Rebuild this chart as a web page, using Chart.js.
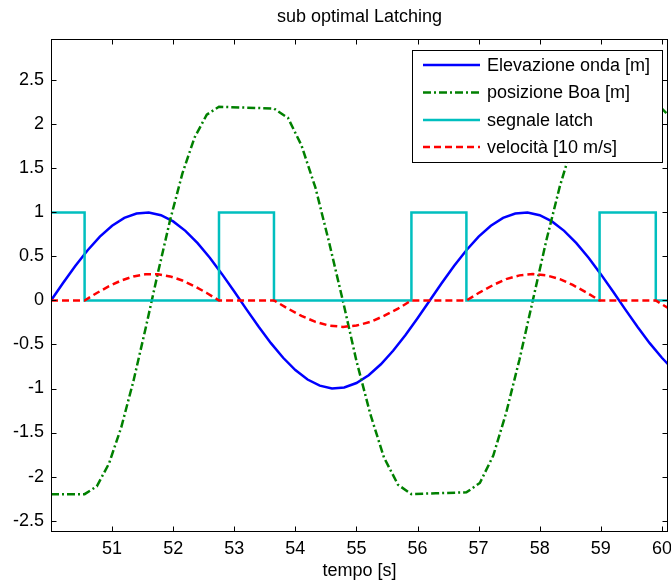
<!DOCTYPE html>
<html><head><meta charset="utf-8">
<script src="https://cdn.jsdelivr.net/npm/chart.js@4.4.1/dist/chart.umd.min.js"></script>
<style>html,body{margin:0;padding:0;background:#fff;}</style>
</head><body>
<canvas id="c" width="671" height="583" style="display:block;width:671px;height:583px"></canvas>
<script>
const chartTitle = 'sub optimal Latching';
const xAxisTitle = 'tempo [s]';
const seriesNames = ['Elevazione onda [m]', 'posizione Boa [m]', 'segnale latch', 'velocità [10 m/s]'];
const xTicks = [51, 52, 53, 54, 55, 56, 57, 58, 59, 60];
const yTicks = [-2.5, -2, -1.5, -1, -0.5, 0, 0.5, 1, 1.5, 2, 2.5];
const yTickLabels = ['-2.5', '-2', '-1.5', '-1', '-0.5', '0', '0.5', '1', '1.5', '2', '2.5'];

// Elevazione onda [m]
const tElev = [50.0,50.2,50.4,50.6,50.8,51.0,51.2,51.4,51.6,51.8,52.0,52.2,52.4,52.6,52.8,53.0,53.2,53.4,53.6,53.8,
  54.0,54.2,54.4,54.6,54.8,55.0,55.2,55.4,55.6,55.8,56.0,56.2,56.4,56.6,56.8,57.0,57.2,57.4,57.6,57.8,
  58.0,58.2,58.4,58.6,58.8,59.0,59.2,59.4,59.6,59.8,60.0,60.1];
const elevazione = [0,0.201,0.394,0.571,0.725,0.849,0.938,0.988,0.999,0.968,0.898,0.791,0.651,0.485,0.299,0.101,
  -0.101,-0.299,-0.485,-0.651,-0.791,-0.898,-0.968,-0.999,-0.988,-0.938,-0.849,-0.725,-0.571,-0.394,-0.201,0,
  0.201,0.394,0.571,0.725,0.849,0.938,0.988,0.999,0.968,0.898,0.791,0.651,0.485,0.299,0.101,-0.101,-0.299,-0.485,-0.651,-0.724];

// posizione Boa [m]
const tBoa = [50.0,50.55,50.75,50.95,51.15,51.35,51.55,51.75,51.95,52.15,52.35,52.55,52.75,53.2,53.65,
  53.88,54.1,54.33,54.55,54.78,55.0,55.23,55.45,55.68,55.9,56.3,56.8,
  57.02,57.24,57.45,57.67,57.89,58.11,58.33,58.54,58.76,58.98,59.9,60.0,60.1];
const posizione = [-2.2,-2.2,-2.111,-1.851,-1.441,-0.914,-0.313,0.313,0.914,1.441,1.851,2.111,2.2,2.19,2.18,
  2.073,1.762,1.278,0.667,-0.01,-0.687,-1.298,-1.782,-2.093,-2.2,-2.19,-2.18,
  -2.073,-1.762,-1.278,-0.667,0.01,0.687,1.298,1.782,2.093,2.2,2.2,2.178,2.111];

// segnale latch
const tLatch = [50.0,50.55,50.55,52.75,52.75,53.65,53.65,55.9,55.9,56.8,56.8,58.98,58.98,59.9,59.9,60.1];
const latch = [1,1,0,0,1,1,0,0,1,1,0,0,1,1,0,0];

// velocità [10 m/s]
const tVel = [50.0,50.55,50.75,50.95,51.15,51.35,51.55,51.75,51.95,52.15,52.35,52.55,52.75,53.65,
  53.88,54.1,54.33,54.55,54.78,55.0,55.23,55.45,55.68,55.9,56.8,
  57.02,57.24,57.45,57.67,57.89,58.11,58.33,58.54,58.76,58.98,59.9,60.0,60.1];
const velocita = [0,0,0.085,0.162,0.227,0.273,0.297,0.297,0.273,0.227,0.162,0.085,0,0,
  -0.093,-0.176,-0.243,-0.285,-0.3,-0.285,-0.243,-0.176,-0.093,0,0,
  0.093,0.176,0.243,0.285,0.3,0.285,0.243,0.176,0.093,0,0,-0.043,-0.084];

const colors = ['#0000ff', '#008000', '#00bfbf', '#ff0000'];
const dashes = [[], [8, 3, 2, 3], [], [7, 4]];
const FONT = 'Liberation Sans, Arial, Helvetica, sans-serif';

const pts = (xs, ys) => xs.map((x, i) => ({x: x, y: ys[i]}));
const seriesData = [pts(tElev, elevazione), pts(tBoa, posizione), pts(tLatch, latch), pts(tVel, velocita)];

const datasets = seriesData.map((d, i) => ({
  label: seriesNames[i],
  data: d,
  borderColor: colors[i],
  backgroundColor: colors[i],
  borderWidth: 2.5,
  borderDash: dashes[i],
  pointRadius: 0,
  tension: 0,
  fill: false,
  order: 4 - i
}));

const framePlugin = {
  id: 'frame',
  beforeDraw(chart) {
    const ctx = chart.ctx;
    ctx.save(); ctx.fillStyle = '#fff'; ctx.fillRect(0, 0, chart.width, chart.height); ctx.restore();
  },
  afterDatasetsDraw(chart) {
    const ctx = chart.ctx, a = chart.chartArea;
    const xs = chart.scales.x, ys = chart.scales.y;
    const L = Math.round(a.left) + 0.5, R = Math.round(a.right) - 0.5, T = Math.round(a.top) + 0.5, B = Math.round(a.bottom) - 0.5;
    ctx.save();
    ctx.strokeStyle = '#000'; ctx.lineWidth = 1; ctx.setLineDash([]);
    ctx.beginPath();
    xTicks.forEach(v => {
      const p = Math.round(xs.getPixelForValue(v)) + 0.5;
      ctx.moveTo(p, B); ctx.lineTo(p, B - 5);
      ctx.moveTo(p, T); ctx.lineTo(p, T + 5);
    });
    yTicks.forEach(v => {
      const p = Math.round(ys.getPixelForValue(v)) + 0.5;
      ctx.moveTo(L, p); ctx.lineTo(L + 5, p);
      ctx.moveTo(R, p); ctx.lineTo(R - 5, p);
    });
    ctx.stroke();
    ctx.strokeRect(L, T, R - L, B - T);

    // legend box
    const bx = 412.5, by = 50.5, bw = 250, bh = 112;
    ctx.fillStyle = '#fff';
    ctx.fillRect(bx, by, bw, bh);
    ctx.strokeRect(bx, by, bw, bh);
    const rowY = [65, 92.5, 120, 147];
    ctx.font = '18px ' + FONT;
    ctx.textBaseline = 'middle';
    ctx.textAlign = 'left';
    seriesNames.forEach((name, i) => {
      ctx.strokeStyle = colors[i];
      ctx.lineWidth = 2.5;
      ctx.setLineDash(dashes[i]);
      ctx.beginPath();
      ctx.moveTo(423, rowY[i]); ctx.lineTo(480, rowY[i]);
      ctx.stroke();
      ctx.setLineDash([]);
      ctx.fillStyle = '#000';
      ctx.fillText(name, 487, rowY[i] + 1);
    });
    ctx.restore();
  }
};

new Chart(document.getElementById('c'), {
  type: 'line',
  data: { datasets: datasets },
  options: {
    responsive: false,
    animation: false,
    devicePixelRatio: 1,
    layout: { padding: { left: 0, right: 3, top: 0, bottom: 0 } },
    plugins: {
      legend: { display: false },
      tooltip: { enabled: false },
      title: {
        display: true, text: chartTitle, color: '#000', fullSize: false,
        font: { family: FONT, size: 18, weight: 'normal' },
        padding: { top: 6, bottom: 11.4 }
      }
    },
    scales: {
      x: {
        type: 'linear', min: 50, max: 60.1,
        grid: { display: false, drawTicks: false },
        border: { display: false },
        afterFit(s) { s.height = 51; s.paddingLeft = 0; s.paddingRight = 0; },
        afterBuildTicks(s) { s.ticks = xTicks.map(v => ({value: v})); },
        ticks: { color: '#000', font: { family: FONT, size: 18 }, padding: 6, maxRotation: 0, autoSkip: false,
          callback: (v) => String(v) },
        title: { display: true, text: xAxisTitle, color: '#000', font: { family: FONT, size: 18 }, padding: { top: 0, bottom: 1 } }
      },
      y: {
        type: 'linear', min: -2.63, max: 2.97,
        grid: { display: false, drawTicks: false },
        border: { display: false },
        afterFit(s) { s.width = 51; s.paddingTop = 0; s.paddingBottom = 0; },
        afterBuildTicks(s) { s.ticks = yTicks.map(v => ({value: v})); },
        ticks: { color: '#000', font: { family: FONT, size: 18 }, padding: 7, autoSkip: false,
          callback: (v, i) => yTickLabels[i] }
      }
    }
  },
  plugins: [framePlugin]
});
</script>
</body></html>
